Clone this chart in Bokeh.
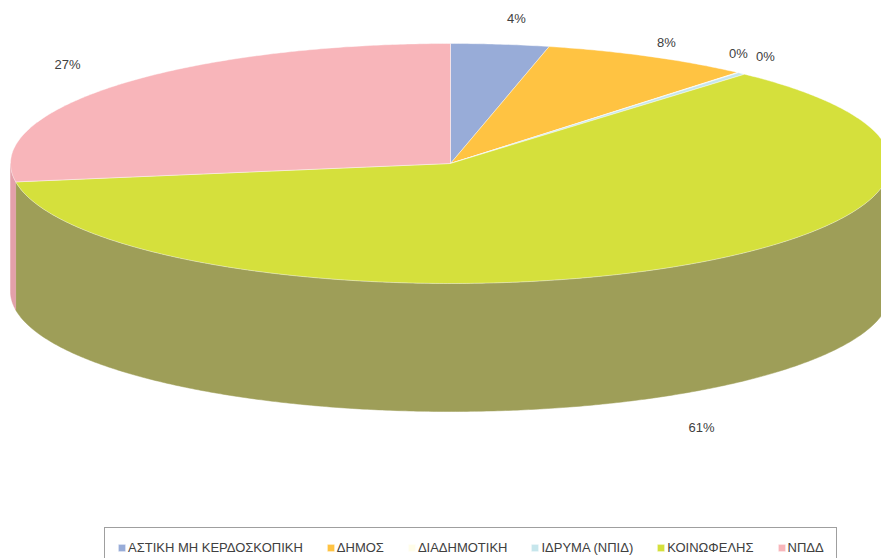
import numpy as np
from bokeh.plotting import figure
from bokeh.models import Range1d, Legend, LegendItem
from bokeh.core.properties import value
from bokeh.embed import file_html
from bokeh.resources import INLINE

categories = ["ΑΣΤΙΚΗ ΜΗ ΚΕΡΔΟΣΚΟΠΙΚΗ", "ΔΗΜΟΣ", "ΔΙΑΔΗΜΟΤΙΚΗ", "ΙΔΡΥΜΑ (ΝΠΙΔ)", "ΚΟΙΝΩΦΕΛΗΣ", "ΝΠΔΔ"]
shares = [3.6, 7.7, 0.05, 0.3, 60.9, 27.45]
labels = ["4%", "8%", "0%", "0%", "61%", "27%"]
top_colors = ["#98ACD8", "#FFC342", "#FFFDE9", "#C6E6EC", "#D5E03C", "#F8B5BA"]
side_colors = ["#7A8AAD", "#CC9C35", "#CCCABA", "#9EB8BD", "#9E9E58", "#E3A0AA"]
label_x = [516, 666, 738, 765, 701, 67]
label_y = [18, 42, 53, 56, 427, 64]

CX, CY, RX, RY, DEPTH = 450, 163, 440, 120, 128

p = figure(width=881, height=558, output_backend="svg", toolbar_location=None,
           x_range=Range1d(0, 881), y_range=Range1d(558, 0),
           x_axis_location=None, y_axis_location=None, min_border=0,
           outline_line_color=None, background_fill_color="white", border_fill_color="white")
p.xgrid.visible = False
p.ygrid.visible = False


def arc(a, b, dy=0.0):
    t = np.radians(np.linspace(a, b, max(int(abs(b - a) * 2), 2)))
    return CX + RX * np.sin(t), CY - RY * np.cos(t) + dy


edges = np.concatenate([[0], np.cumsum(shares)]) * 360 / sum(shares)

# side walls (front half only)
for i in range(len(shares)):
    a, b = max(edges[i], 90), min(edges[i + 1], 270)
    if b > a:
        x1, y1 = arc(a, b)
        x2, y2 = arc(b, a, DEPTH)
        p.patch(np.concatenate([x1, x2]), np.concatenate([y1, y2]),
                fill_color=side_colors[i], line_color=side_colors[i], line_width=0.5)

# top faces
items = []
for i, name in enumerate(categories):
    x, y = arc(edges[i], edges[i + 1])
    r = p.patch(np.concatenate([[CX], x]), np.concatenate([[CY], y]),
                fill_color=top_colors[i], line_color="#FFFFFF", line_alpha=0.55, line_width=0.75)
    items.append(LegendItem(label=name, renderers=[r]))

p.text(x=label_x, y=label_y, text=labels, text_font=value("Liberation Sans"),
       text_font_size="13px", text_color="#404040", text_align="center", text_baseline="middle")

legend = Legend(items=items, orientation="horizontal", location=(104, -10),
                label_text_font="Liberation Sans", label_text_font_size="13px",
                label_text_color="#404040", label_standoff=2, spacing=23,
                glyph_width=9, glyph_height=9, padding=12, margin=0,
                border_line_color="#404040", border_line_width=1,
                background_fill_color="white", background_fill_alpha=1)
p.add_layout(legend, "center")

open("out.html", "w").write(file_html(p, INLINE))
